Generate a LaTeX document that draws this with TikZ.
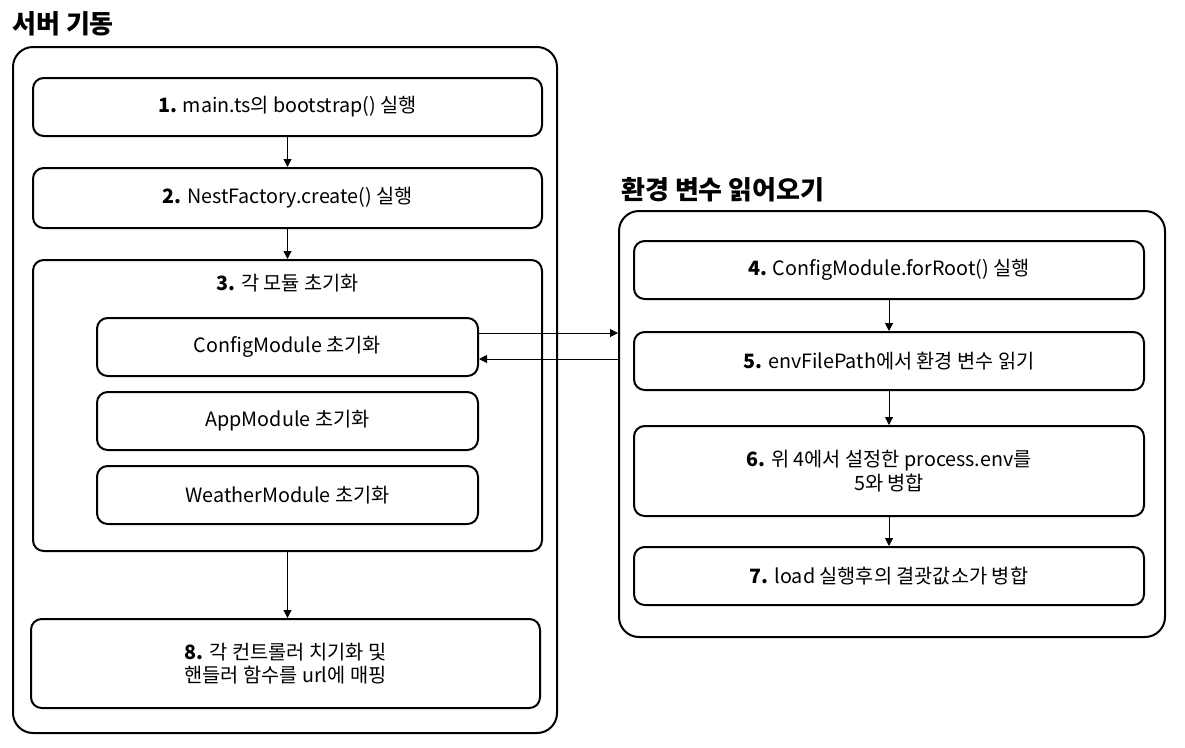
\documentclass[tikz,border=0pt]{standalone}
\usepackage{fontspec}
\setmainfont{Noto Sans CJK KR}
\usetikzlibrary{arrows.meta}
\tikzset{
  grp/.style={draw, line width=1.5pt, rounded corners=15pt, inner sep=0pt},
  stepbox/.style={draw, line width=1.5pt, rounded corners=8pt, inner sep=0pt, align=center, font=\fontsize{14.8}{17.5}\selectfont},
  ttl/.style={font=\fontsize{19.5}{22}\selectfont\bfseries, anchor=west, inner sep=0pt},
  arr/.style={-{Triangle[length=6pt,width=6pt]}, line width=0.75pt},
}
\begin{document}
\begin{tikzpicture}[x=0.75pt,y=-0.75pt]
\useasboundingbox (0,0) rectangle (1185,747);
% left group
\node[ttl] (t1) at (12,24) {서버 기동};
\node[grp, minimum width=544*0.75pt, minimum height=686*0.75pt] (g1) at (285,390) {};
\node[stepbox, minimum width=509*0.75pt, minimum height=58*0.75pt] (s1) at (287.5,107) {\textbf{1.} main.ts의 bootstrap() 실행};
\node[stepbox, minimum width=509*0.75pt, minimum height=60*0.75pt] (s2) at (287.5,198) {\textbf{2.} NestFactory.create() 실행};
\node[stepbox, minimum width=509*0.75pt, minimum height=291*0.75pt] (s3) at (287.5,405.5) {};
\node[font=\fontsize{14.8}{17.5}\selectfont, inner sep=0pt] (s3t) at (287.5,283) {\textbf{3.} 각 모듈 초기화};
\node[stepbox, minimum width=381*0.75pt, minimum height=58*0.75pt] (m1) at (287.5,347) {ConfigModule 초기화};
\node[stepbox, minimum width=381*0.75pt, minimum height=58*0.75pt] (m2) at (287.5,421) {AppModule 초기화};
\node[stepbox, minimum width=381*0.75pt, minimum height=58*0.75pt] (m3) at (287.5,495) {WeatherModule 초기화};
\node[stepbox, minimum width=509*0.75pt, minimum height=89*0.75pt] (s8) at (285.5,663.5) {\textbf{8.} 각 컨트롤러 치기화 및\\핸들러 함수를 url에 매핑};
% right group
\node[ttl] (t2) at (621,190) {환경 변수 읽어오기};
\node[grp, minimum width=546*0.75pt, minimum height=426*0.75pt] (g2) at (892,424) {};
\node[stepbox, minimum width=510*0.75pt, minimum height=58*0.75pt] (s4) at (889,270) {\textbf{4.} ConfigModule.forRoot() 실행};
\node[stepbox, minimum width=510*0.75pt, minimum height=58*0.75pt] (s5) at (889,361) {\textbf{5.} envFilePath에서 환경 변수 읽기};
\node[stepbox, minimum width=510*0.75pt, minimum height=90*0.75pt] (s6) at (889,471) {\textbf{6.} 위 4에서 설정한 process.env를\\5와 병합};
\node[stepbox, minimum width=510*0.75pt, minimum height=58*0.75pt] (s7) at (889,576) {\textbf{7.} load 실행후의 결괏값소가 병합};
% connectors
\draw[arr] (s1.south) -- (s2.north);
\draw[arr] (s2.south) -- (s3.north);
\draw[arr] (s3.south) -- (s3.south |- s8.north);
\draw[arr] (s4.south) -- (s5.north);
\draw[arr] (s5.south) -- (s6.north);
\draw[arr] (s6.south) -- (s7.north);
\draw[arr] (m1.east |- 0,333) -- (g2.west |- 0,333);
\draw[arr] (g2.west |- 0,359) -- (m1.east |- 0,359);
\end{tikzpicture}
\end{document}
